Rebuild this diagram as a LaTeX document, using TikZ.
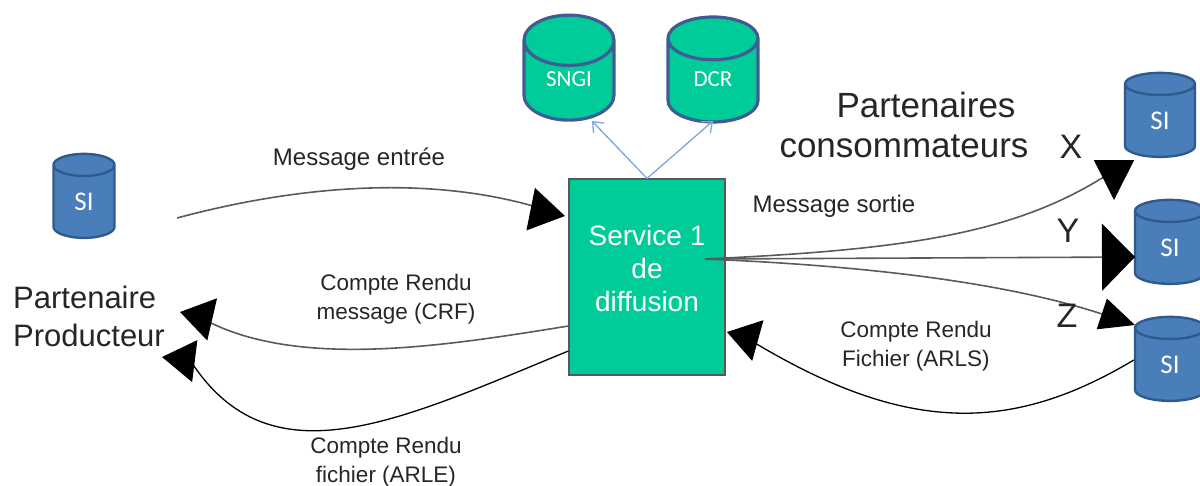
\documentclass[tikz,border=0pt]{standalone}
\usepackage{fontspec}
\setmainfont{Liberation Sans}
\newfontfamily\cylfont{Carlito}
\usetikzlibrary{shapes.geometric,arrows.meta}
\definecolor{teal}{HTML}{00CC99}
\definecolor{siblue}{HTML}{4A7EBB}
\definecolor{edgeblue}{HTML}{2F5A8C}
\definecolor{navy}{HTML}{3F5C94}
\definecolor{lineg}{HTML}{5A5A5A}
\definecolor{lightarrow}{HTML}{7FA6D6}
\tikzset{
 db/.style={cylinder,shape border rotate=90,draw=edgeblue,line width=2.4pt,fill=siblue,text=white,aspect=1.15,minimum width=#1,minimum height=84pt,inner sep=0pt,font=\cylfont\fontsize{27}{29}\selectfont},
 dbgreen/.style={db=90pt,draw=navy,line width=3.2pt,fill=teal,aspect=1.1,minimum height=105pt,font=\cylfont\fontsize{23}{25}\selectfont},
 lab/.style={align=center,text=black!85,font=\fontsize{24}{29}\selectfont},
 smalllab/.style={align=center,text=black!85,font=\fontsize{22.5}{29}\selectfont},
 biglab/.style={align=left,text=black!85,font=\fontsize{31}{38}\selectfont},
 letter/.style={text=black!85,font=\fontsize{34}{36}\selectfont},
 flow/.style={draw=lineg,line width=1.6pt},
 reply/.style={draw=black,line width=1.3pt},
 blue arrow/.style={draw=lightarrow,line width=1.3pt,-{Straight Barb[length=9pt,width=15pt]}},
 bighead/.style n args={2}{-{Triangle[length=#1,width=#2,fill=black,color=black]}}
}
\begin{document}
\begin{tikzpicture}[x=1pt,y=-1pt]
\useasboundingbox (0,0) rectangle (1200,485);
\node[draw=black!65,line width=1.2pt,fill=teal,minimum width=156pt,minimum height=196pt,inner sep=0pt] (svc) at (647,277) {};
\node[align=center,text=white,font=\fontsize{28}{33}\selectfont] (svctext) at (647,268) {Service 1\\de\\diffusion};
\node[dbgreen] (sngi) at (569,81) {\raisebox{3pt}{SNGI}};
\node[dbgreen] (dcr) at (713,81) {\raisebox{3pt}{DCR}};
\node[db=61pt] (sil) at (84,202) {SI};
\node[db=70pt] (six) at (1160,121) {SI};
\node[db=70pt] (siy) at (1170,248) {SI};
\node[db=70pt] (siz) at (1170,365) {SI};
\coordinate (src) at (177,218);
\coordinate (hub) at (705,259);
\coordinate (tipin) at (565,216);
\coordinate (tipx) at (1114,200);
\coordinate (tipy) at (1135,257);
\coordinate (tipz) at (1135,325);
\coordinate (tipcrf) at (180,312);
\coordinate (tiparle) at (162,357);
\coordinate (tiparls) at (727,332);
\draw[blue arrow] (svc.north) -- (592,121);
\draw[blue arrow] (svc.north) -- (713,121);
\draw[flow,bighead={35pt}{43pt}] (src) .. controls (300,185) and (430,175) .. (540,208) -- (545,212) -- (tipin);
\draw[flow,bighead={40pt}{40pt}] (hub) .. controls (900,250) and (1010,235) .. (1102,178) -- (1114,178) -- (tipx);
\draw[flow,bighead={33pt}{67pt}] (hub) -- (tipy);
\draw[flow,bighead={35pt}{32pt}] (hub) .. controls (850,265) and (1000,280) .. (1105,315) -- (tipz);
\draw[flow,bighead={33pt}{43pt}] (svc.west |- 0,326) .. controls (450,345) and (300,370) .. (205,320) -- (206,318) -- (tipcrf);
\draw[reply,bighead={33pt}{42pt}] (svc.west |- 0,351) .. controls (400,420) and (270,485) .. (190,360) -- (186,360) -- (tiparle);
\draw[reply,bighead={32pt}{42pt}] (siz.west |- 0,360) .. controls (1010,434) and (905,434) .. (750,340) -- (745,337) -- (tiparls);
\node[lab] (m1) at (359,159) {Message entrée};
\node[lab] (m2) at (834,206) {Message sortie};
\node[smalllab] (m3) at (396,299) {Compte Rendu\\message (CRF)};
\node[smalllab] (m4) at (916,346) {Compte Rendu\\Fichier (ARLS)};
\node[smalllab] (m5) at (386,462) {Compte Rendu\\fichier (ARLE)};
\node[biglab] (pp) at (89,316) {Partenaire\\Producteur};
\node[biglab,align=center,font=\fontsize{35}{40}\selectfont] (pc) at (904,125) {\hspace{44pt}Partenaires\\consommateurs};
\node[letter] (x) at (1071,147) {X};
\node[letter] (y) at (1068,231) {Y};
\node[letter] (z) at (1067,316) {Z};
\end{tikzpicture}
\end{document}
